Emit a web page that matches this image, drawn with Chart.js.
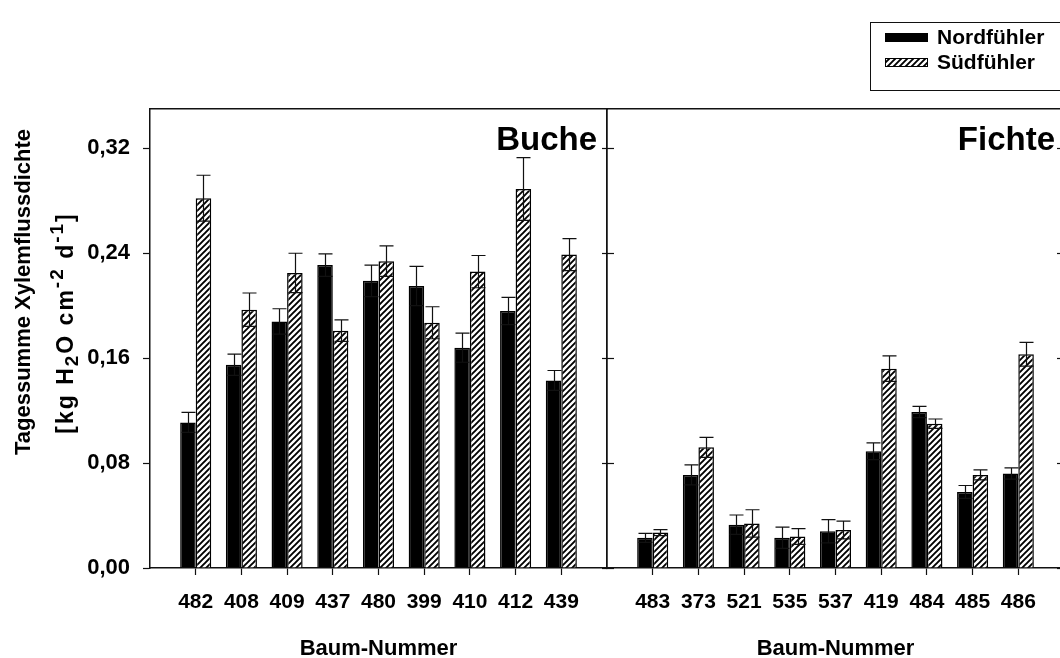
<!DOCTYPE html>
<html lang="de">
<head>
<meta charset="utf-8">
<title>Tagessumme Xylemflussdichte – Buche und Fichte</title>
<script src="https://cdn.jsdelivr.net/npm/chart.js@4.4.1/dist/chart.umd.min.js"></script>
<style>
  html, body { margin: 0; padding: 0; background: #fff; overflow: hidden; width: 1060px; height: 658px; }
  #wrap { position: relative; width: 1060px; height: 658px; overflow: hidden; }
  #buche { position: absolute; left: 0; top: 0; }
  #fichte { position: absolute; left: 600px; top: 0; }
</style>
</head>
<body>
<div id="wrap">
  <canvas id="buche" width="620" height="662"></canvas>
  <canvas id="fichte" width="472" height="662"></canvas>
</div>
<script>
// Baumnummern
const baumBuche  = ['482', '408', '409', '437', '480', '399', '410', '412', '439'];
const baumFichte = ['483', '373', '521', '535', '537', '419', '484', '485', '486'];

// Tagessumme Xylemflussdichte [kg H2O cm-2 d-1] – Mittelwerte
const nordBuche  = [0.111, 0.155, 0.188, 0.231, 0.219, 0.215, 0.168, 0.196, 0.143];
const suedBuche  = [0.282, 0.197, 0.225, 0.181, 0.234, 0.187, 0.226, 0.289, 0.239];
const nordFichte = [0.023, 0.071, 0.033, 0.023, 0.028, 0.089, 0.119, 0.058, 0.072];
const suedFichte = [0.027, 0.092, 0.034, 0.024, 0.029, 0.152, 0.110, 0.071, 0.163];

// Fehlerbalken
const nordBucheErr  = [0.0076, 0.0081, 0.0097, 0.0086, 0.0120, 0.0150, 0.0111, 0.0104, 0.0076];
const suedBucheErr  = [0.0175, 0.0127, 0.0150, 0.0082, 0.0117, 0.0122, 0.0123, 0.0239, 0.0122];
const nordFichteErr = [0.0034, 0.0076, 0.0074, 0.0081, 0.0089, 0.0064, 0.0043, 0.0049, 0.0043];
const suedFichteErr = [0.0023, 0.0076, 0.0104, 0.0060, 0.0068, 0.0097, 0.0036, 0.0038, 0.0091];

// Achsen
const yTicks = [0, 0.08, 0.16, 0.24, 0.32];
const yMax = 0.35;
const xMax = 10;

const seriesNames = ['Nordfühler', 'Südfühler'];
const xTitle = 'Baum-Nummer';
const yTitleLine1 = 'Tagessumme Xylemflussdichte';
const yTitleLine2 = [
  { t: '[kg H' }, { t: '2', shift: 'sub' }, { t: 'O cm' }, { t: '-2', shift: 'sup' },
  { t: ' d' }, { t: '-1', shift: 'sup' }, { t: ']' }
];

const FONT = '"Liberation Sans", Arial, Helvetica, sans-serif';
const INK = '#111';
Chart.defaults.font.family = FONT;
Chart.defaults.color = '#000';

function hatchPattern() {
  const c = document.createElement('canvas');
  c.width = 6; c.height = 6;
  const g = c.getContext('2d');
  g.fillStyle = '#fff';
  g.fillRect(0, 0, 6, 6);
  g.strokeStyle = '#000';
  g.lineWidth = 1.9;
  g.beginPath();
  g.moveTo(-1, 7); g.lineTo(7, -1);
  g.moveTo(-1, 1); g.lineTo(1, -1);
  g.moveTo(5, 7); g.lineTo(7, 5);
  g.stroke();
  return g.createPattern(c, 'repeat');
}
const HATCH = hatchPattern();

const toPoints = vals => vals.map((v, i) => ({ x: i + 1, y: v }));
const fmtY = v => v.toFixed(2).replace('.', ',');

// Fehlerbalken über den Säulen
const errorBars = {
  id: 'errorBars',
  afterDatasetsDraw(chart, args, opts) {
    const ctx = chart.ctx;
    const ys = chart.scales.y;
    chart.data.datasets.forEach((ds, di) => {
      const errs = opts.errors[di];
      chart.getDatasetMeta(di).data.forEach((bar, i) => {
        const v = ds.data[i].y, e = errs[i];
        const x = Math.round(bar.x) + 0.5;
        const yt = ys.getPixelForValue(v + e);
        const yb = ys.getPixelForValue(v - e);
        ctx.save();
        ctx.strokeStyle = INK;
        ctx.lineWidth = 1.2;
        ctx.beginPath();
        ctx.moveTo(x, yb); ctx.lineTo(x, yt);
        ctx.moveTo(x - 7, yt); ctx.lineTo(x + 7, yt);
        ctx.moveTo(x - 7, yb); ctx.lineTo(x + 7, yb);
        ctx.stroke();
        ctx.restore();
      });
    });
  }
};

// Baumart oben rechts im Diagramm
const panelLabel = {
  id: 'panelLabel',
  afterDraw(chart, args, opts) {
    const { ctx, chartArea } = chart;
    ctx.save();
    ctx.font = 'bold 33px ' + FONT;
    ctx.fillStyle = '#000';
    ctx.textAlign = 'right';
    ctx.textBaseline = 'alphabetic';
    ctx.fillText(opts.text, chartArea.right - opts.inset, chartArea.top + 41);
    ctx.restore();
  }
};

// Zweizeiliger y-Achsentitel mit Hoch- und Tiefstellung
const yAxisTitle = {
  id: 'yAxisTitle',
  afterDraw(chart) {
    const ctx = chart.ctx;
    const main = 'bold 22px ' + FONT;
    const mainL2 = 'bold 23px ' + FONT;
    const small = 'bold 19px ' + FONT;
    ctx.save();
    ctx.fillStyle = '#000';
    ctx.textBaseline = 'alphabetic';
    ctx.textAlign = 'left';

    ctx.save();
    ctx.translate(30, 292);
    ctx.rotate(-Math.PI / 2);
    ctx.font = main;
    const w1 = ctx.measureText(yTitleLine1).width;
    ctx.fillText(yTitleLine1, -w1 / 2, 0);
    ctx.restore();

    ctx.save();
    ctx.translate(73, 323);
    ctx.rotate(-Math.PI / 2);
    ctx.letterSpacing = '2px';
    const parts = yTitleLine2.map(p => {
      ctx.font = p.shift ? small : mainL2;
      return { ...p, font: ctx.font, w: ctx.measureText(p.t).width };
    });
    const total = parts.reduce((s, p) => s + p.w, 0);
    let x = -total / 2;
    parts.forEach(p => {
      ctx.font = p.font;
      const dy = p.shift === 'sup' ? -10 : p.shift === 'sub' ? 5 : 0;
      ctx.fillText(p.t, x, dy);
      x += p.w;
    });
    ctx.restore();
    ctx.restore();
  }
};

// Legende mit Rahmen
const boxLegend = {
  id: 'boxLegend',
  afterDraw(chart, args, opts) {
    if (!opts.show) return;
    const ctx = chart.ctx;
    const L = chart.chartArea.right - 194;
    ctx.save();
    ctx.strokeStyle = INK;
    ctx.lineWidth = 1;
    ctx.strokeRect(L + 0.5, 22.5, 210, 68);
    chart.data.datasets.forEach((ds, i) => {
      const y = 33 + i * 25;
      ctx.fillStyle = ds.backgroundColor;
      ctx.fillRect(L + 15, y, 43, 9);
      ctx.strokeStyle = '#000';
      ctx.lineWidth = 1;
      ctx.strokeRect(L + 15.5, y + 0.5, 42, 8);
      ctx.fillStyle = '#000';
      ctx.font = 'bold 21px ' + FONT;
      ctx.textBaseline = 'middle';
      ctx.textAlign = 'left';
      ctx.fillText(ds.label, L + 67, y + 5);
    });
    ctx.restore();
  }
};

function frameAxis(position, extra) {
  const horizontal = position === 'top' || position === 'bottom';
  return Object.assign({
    type: 'linear',
    position,
    min: 0,
    max: 1,
    ticks: { display: false },
    grid: { display: false },
    border: { display: true, color: INK, width: 1.5 },
    afterFit: s => { if (horizontal) s.height = 0; else s.width = 0; }
  }, extra || {});
}

function sideTicks(position, length) {
  return frameAxis(position, {
    min: 0,
    max: yMax,
    grid: { display: true, drawOnChartArea: false, drawTicks: true, tickLength: length, tickColor: INK, tickWidth: 1.2 },
    afterBuildTicks: s => { s.ticks = yTicks.map(v => ({ value: v })); }
  });
}

function makeChart(id, labels, nord, sued, nordErr, suedErr, opts) {
  return new Chart(document.getElementById(id), {
    type: 'bar',
    data: {
      datasets: [
        { label: seriesNames[0], data: toPoints(nord), backgroundColor: '#000', borderColor: '#000', borderWidth: 1.5 },
        { label: seriesNames[1], data: toPoints(sued), backgroundColor: HATCH, borderColor: '#000', borderWidth: 1.5 }
      ]
    },
    options: {
      responsive: false,
      devicePixelRatio: 1,
      animation: false,
      events: [],
      categoryPercentage: 0.68,
      barPercentage: 1.0,
      layout: { padding: opts.padding },
      plugins: {
        legend: { display: false },
        tooltip: { enabled: false },
        errorBars: { errors: [nordErr, suedErr] },
        panelLabel: { text: opts.panel, inset: opts.inset },
        boxLegend: { show: opts.legend }
      },
      scales: {
        x: {
          type: 'linear',
          position: 'bottom',
          min: 0,
          max: xMax,
          offset: false,
          afterBuildTicks: s => { s.ticks = labels.map((_, i) => ({ value: i + 1 })); },
          afterFit: s => { s.height = 94; },
          ticks: {
            autoSkip: false,
            maxRotation: 0,
            padding: 15,
            font: { size: 21, weight: 'bold' },
            callback: v => labels[v - 1] || ''
          },
          grid: { display: true, offset: false, drawOnChartArea: false, drawTicks: true, tickLength: 7, tickColor: INK, tickWidth: 1.2 },
          border: { display: true, color: INK, width: 1.5 },
          title: { display: true, text: xTitle, font: { size: 22, weight: 'bold' }, padding: { top: 0, bottom: 0 } }
        },
        xTop: frameAxis('top'),
        y: opts.yAxis,
        yRight: sideTicks('right', -opts.rightTick)
      }
    },
    plugins: opts.plugins
  });
}

makeChart('buche', baumBuche, nordBuche, suedBuche, nordBucheErr, suedBucheErr, {
  panel: 'Buche',
  inset: 10,
  legend: false,
  rightTick: 5,
  padding: { top: 109, right: 13, bottom: 0, left: 0 },
  yAxis: {
    type: 'linear',
    position: 'left',
    min: 0,
    max: yMax,
    afterBuildTicks: s => { s.ticks = yTicks.map(v => ({ value: v })); },
    afterFit: s => { s.width = 150; },
    ticks: { padding: 13, font: { size: 22, weight: 'bold' }, callback: v => fmtY(v) },
    grid: { display: true, drawOnChartArea: false, drawTicks: true, tickLength: 7, tickColor: INK, tickWidth: 1.2 },
    border: { display: true, color: INK, width: 1.5 }
  },
  plugins: [errorBars, panelLabel, yAxisTitle]
});

makeChart('fichte', baumFichte, nordFichte, suedFichte, nordFichteErr, suedFichteErr, {
  panel: 'Fichte',
  inset: 9,
  legend: true,
  rightTick: 7,
  padding: { top: 109, right: 8, bottom: 0, left: 7 },
  yAxis: sideTicks('left', -7),
  plugins: [errorBars, panelLabel, boxLegend]
});
</script>
</body>
</html>
